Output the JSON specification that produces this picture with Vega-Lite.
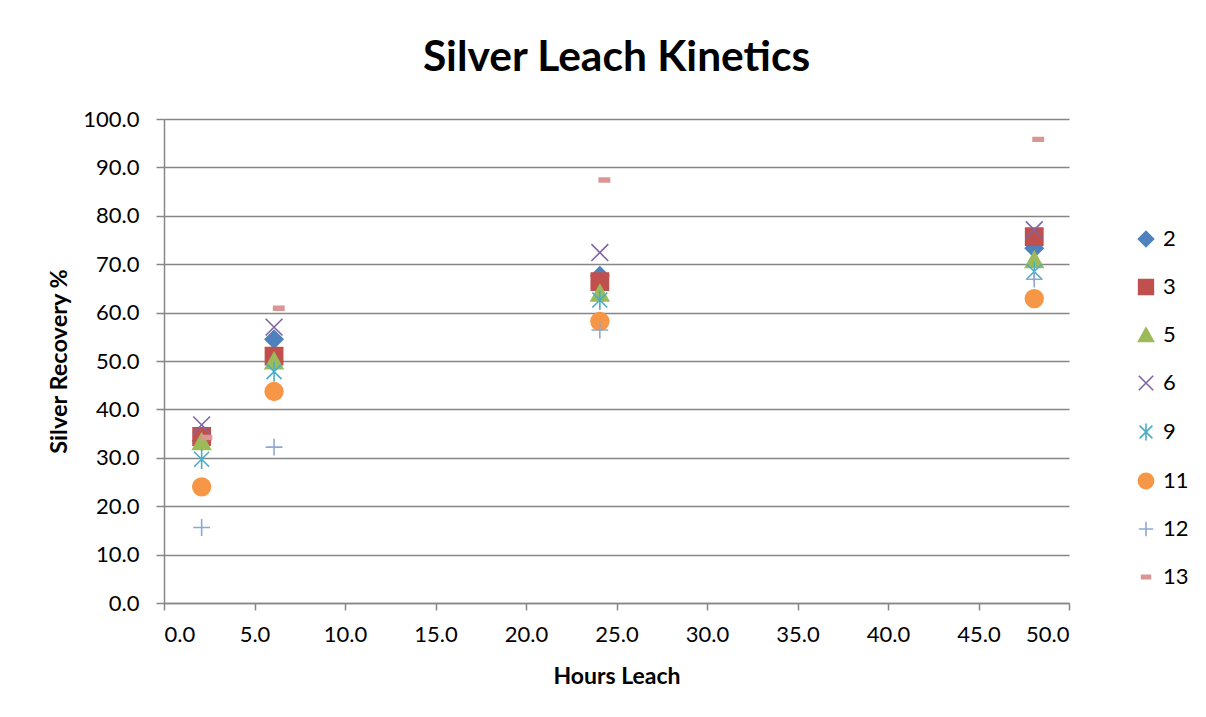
{
  "$schema": "https://vega.github.io/schema/vega-lite/v6.json",
  "width": 905,
  "height": 484,
  "autosize": {"type": "none"},
  "padding": {"left": 164, "top": 119, "right": 137, "bottom": 114},
  "background": "white",
  "title": {
    "text": "Silver Leach Kinetics",
    "font": "Lato",
    "fontSize": 42.5,
    "fontWeight": "bold",
    "color": "#000000",
    "anchor": "middle",
    "offset": 29
  },
  "data": {
    "values": [
      {"series": "2", "hours": 2.08, "recovery": 33.5},
      {"series": "2", "hours": 6.08, "recovery": 54.5},
      {"series": "2", "hours": 24.08, "recovery": 67.6},
      {"series": "2", "hours": 48.08, "recovery": 73.3},
      {"series": "3", "hours": 2.08, "recovery": 34.4},
      {"series": "3", "hours": 6.08, "recovery": 51.0},
      {"series": "3", "hours": 24.08, "recovery": 66.4},
      {"series": "3", "hours": 48.08, "recovery": 75.7},
      {"series": "5", "hours": 2.08, "recovery": 33.3},
      {"series": "5", "hours": 6.08, "recovery": 50.0},
      {"series": "5", "hours": 24.08, "recovery": 64.0},
      {"series": "5", "hours": 48.08, "recovery": 70.9},
      {"series": "6", "hours": 2.08, "recovery": 36.8},
      {"series": "6", "hours": 6.08, "recovery": 57.0},
      {"series": "6", "hours": 24.08, "recovery": 72.4},
      {"series": "6", "hours": 48.08, "recovery": 77.1},
      {"series": "9", "hours": 2.08, "recovery": 29.7},
      {"series": "9", "hours": 6.08, "recovery": 47.8},
      {"series": "9", "hours": 24.08, "recovery": 62.6},
      {"series": "9", "hours": 48.08, "recovery": 68.5},
      {"series": "11", "hours": 2.08, "recovery": 24.0},
      {"series": "11", "hours": 6.08, "recovery": 43.7},
      {"series": "11", "hours": 24.08, "recovery": 58.2},
      {"series": "11", "hours": 48.08, "recovery": 62.9},
      {"series": "12", "hours": 2.08, "recovery": 15.6},
      {"series": "12", "hours": 6.08, "recovery": 32.2},
      {"series": "12", "hours": 24.08, "recovery": 56.4},
      {"series": "12", "hours": 48.08, "recovery": 66.9},
      {"series": "13", "hours": 2.34, "recovery": 34.2},
      {"series": "13", "hours": 6.34, "recovery": 60.9},
      {"series": "13", "hours": 24.33, "recovery": 87.4},
      {"series": "13", "hours": 48.3, "recovery": 95.8}
    ]
  },
  "mark": {"type": "point", "filled": true, "strokeWidth": 1.6, "opacity": 1, "size": 350},
  "encoding": {
    "x": {
      "field": "hours",
      "type": "quantitative",
      "title": "Hours Leach",
      "scale": {"domain": [0, 50], "nice": false, "zero": true},
      "axis": {
        "values": [0, 5, 10, 15, 20, 25, 30, 35, 40, 45, 50],
        "format": ".1f",
        "grid": false,
        "domainColor": "#868686",
        "domainWidth": 1.5,
        "tickColor": "#868686",
        "tickWidth": 1.5,
        "tickSize": 7,
        "labelFont": "Lato",
        "labelFontSize": 22,
        "labelColor": "#000000",
        "labelPadding": 14,
        "titleFont": "Lato",
        "titleFontSize": 23,
        "titleFontWeight": "bold",
        "titleColor": "#000000",
        "titlePadding": 20
      }
    },
    "y": {
      "field": "recovery",
      "type": "quantitative",
      "title": "Silver Recovery %",
      "scale": {"domain": [0, 100], "nice": false},
      "axis": {
        "values": [0, 10, 20, 30, 40, 50, 60, 70, 80, 90, 100],
        "format": ".1f",
        "grid": true,
        "gridColor": "#868686",
        "gridWidth": 1.5,
        "domainColor": "#868686",
        "domainWidth": 1.5,
        "tickColor": "#868686",
        "tickWidth": 1.5,
        "tickSize": 8,
        "labelFont": "Lato",
        "labelFontSize": 22,
        "labelColor": "#000000",
        "labelPadding": 17,
        "titleFont": "Lato",
        "titleFontSize": 23.5,
        "titleFontWeight": "bold",
        "titleColor": "#000000",
        "titlePadding": 11
      }
    },
    "color": {
      "field": "series",
      "type": "nominal",
      "title": null,
      "scale": {
        "domain": ["2", "3", "5", "6", "9", "11", "12", "13"],
        "range": ["#4F81BD", "#C0504D", "#9BBB59", "#8064A2", "#4BACC6", "#F79646", "#8EA8D4", "#D99694"]
      },
      "legend": {
        "orient": "none",
        "legendX": 971,
        "legendY": 109,
        "labelFont": "Lato",
        "labelFontSize": 22,
        "labelColor": "#000000",
        "symbolSize": 256,
        "symbolStrokeWidth": 1.6,
        "rowPadding": 26,
        "labelOffset": 6
      }
    },
    "stroke": {
      "field": "series",
      "type": "nominal",
      "title": null,
      "scale": {
        "domain": ["2", "3", "5", "6", "9", "11", "12", "13"],
        "range": ["#4F81BD", "#C0504D", "#9BBB59", "#8064A2", "#4BACC6", "#F79646", "#8EA8D4", "#D99694"]
      }
    },
    "shape": {
      "field": "series",
      "type": "nominal",
      "title": null,
      "scale": {
        "domain": ["2", "3", "5", "6", "9", "11", "12", "13"],
        "range": [
          "M-0.95,0L0,-0.95L0.95,0L0,0.95Z",
          "M-0.92,-0.92L0.92,-0.92L0.92,0.92L-0.92,0.92Z",
          "M-0.95,0.82L0,-0.9L0.95,0.82Z",
          "M-0.9,-0.9L0.9,0.9M-0.9,0.9L0.9,-0.9",
          "M-0.8,-0.8L0.8,0.8M-0.8,0.8L0.8,-0.8M0,-1.05L0,1.05",
          "M-0.95,0A0.95,0.95,0,1,1,0.95,0A0.95,0.95,0,1,1,-0.95,0Z",
          "M-0.9,0L0.9,0M0,-0.9L0,0.9",
          "M-0.55,-0.2L0.55,-0.2L0.55,0.2L-0.55,0.2Z"
        ]
      }
    }
  },
  "config": {
    "view": {"stroke": null}
  }
}
